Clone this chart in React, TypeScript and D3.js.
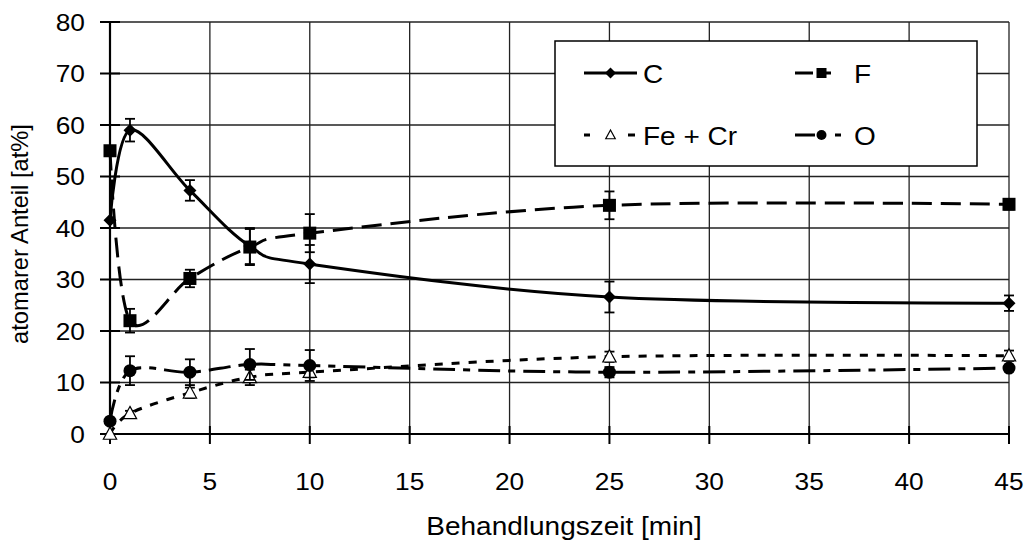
import React from "react";
import * as d3 from "d3";

const times = [0, 1, 4, 7, 10, 25, 45];
const valC = [41.5, 59, 47.3, 36.5, 33, 26.6, 25.4];
const valF = [55, 22, 30.2, 36.3, 39, 44.4, 44.6];
const valFe = [0, 4, 8, 11, 12, 15, 15.2];
const valO = [2.5, 12.3, 12, 13.5, 13.3, 12, 12.8];
const errC = [0, 2.2, 2, 3.5, 3.7, 3, 1.5];
const errF = [0, 2.3, 1.7, 3.5, 3.7, 2.7, 1];
const errFe = [0, 0.5, 1, 1.5, 1, 1, 1];
const errO = [0, 2.8, 2.5, 3, 3, 1, 0.5];
const xTicks = [0, 5, 10, 15, 20, 25, 30, 35, 40, 45];
const yTicks = [0, 10, 20, 30, 40, 50, 60, 70, 80];
const seriesNames = ["C", "F", "Fe + Cr", "O"];

const W = 1025, H = 546;
const FONT = "'Liberation Sans', Arial, sans-serif";
const SX = 1.12;

type Sym = "diamond" | "square" | "triangle" | "circle";

function Marker({ x, y, sym, s }: { x: number; y: number; sym: Sym; s: number }) {
  if (sym === "diamond")
    return <path d={`M${x},${y - s}L${x + s},${y}L${x},${y + s}L${x - s},${y}Z`} fill="#000" />;
  if (sym === "square")
    return <rect x={x - s} y={y - s} width={2 * s} height={2 * s} fill="#000" />;
  if (sym === "circle") return <circle cx={x} cy={y} r={s} fill="#000" />;
  return (
    <path
      d={`M${x},${y - s}L${x + s * 0.95},${y + s * 0.75}L${x - s * 0.95},${y + s * 0.75}Z`}
      fill="#fff"
      stroke="#000"
      strokeWidth={1.2}
    />
  );
}

function T({ x, y, size, anchor, children }: { x: number; y: number; size: number; anchor?: string; children: any }) {
  return (
    <text
      transform={`translate(${x},${y}) scale(${SX},1)`}
      textAnchor={anchor || "start"}
      fontFamily={FONT}
      fontSize={size}
      fill="#000"
    >
      {children}
    </text>
  );
}

export default function App() {
  const x = d3.scaleLinear().domain([0, 45]).range([110, 1009]);
  const y = d3.scaleLinear().domain([0, 80]).range([434, 22]);
  const line = d3
    .line<[number, number]>()
    .x((d) => x(d[0]))
    .y((d) => y(d[1]))
    .curve(d3.curveCardinal.tension(0));

  const series = [
    { name: seriesNames[0], vals: valC, err: errC, sym: "diamond" as Sym, dash: "none", ldash: "none", ms: 6.5, lms: 5.5 },
    { name: seriesNames[1], vals: valF, err: errF, sym: "square" as Sym, dash: "20 9", ldash: "18 9 9", ms: 6.5, lms: 5 },
    { name: seriesNames[2], vals: valFe, err: errFe, sym: "triangle" as Sym, dash: "8 9", ldash: "6 38 7", ms: 7, lms: 5 },
    { name: seriesNames[3], vals: valO, err: errO, sym: "circle" as Sym, dash: "22 8 7 8", ldash: "20 20 6", ms: 6.5, lms: 5 },
  ];

  const legendPos = [
    { lx: 584, ly: 73 },
    { lx: 795, ly: 73 },
    { lx: 584, ly: 135 },
    { lx: 795, ly: 135 },
  ];

  return (
    <svg width={W} height={H} style={{ position: "absolute", left: 0, top: 0, background: "#fff" }}>
      <rect width={W} height={H} fill="#fff" />
      {/* grid */}
      {yTicks.map((t) => (
        <line key={"gy" + t} x1={x(0)} x2={x(45)} y1={y(t)} y2={y(t)} stroke="#222" strokeWidth={1.3} />
      ))}
      {xTicks.map((t) => (
        <line key={"gx" + t} x1={x(t)} x2={x(t)} y1={y(0)} y2={y(80)} stroke="#222" strokeWidth={1.3} />
      ))}
      {/* axes */}
      <line x1={x(0)} x2={x(45)} y1={y(0)} y2={y(0)} stroke="#000" strokeWidth={2.2} />
      <line x1={x(0)} x2={x(0)} y1={y(0)} y2={y(80)} stroke="#000" strokeWidth={2.2} />
      {yTicks.map((t) => (
        <line key={"ty" + t} x1={x(0) - 10} x2={x(0) + 10} y1={y(t)} y2={y(t)} stroke="#000" strokeWidth={2} />
      ))}
      {xTicks.map((t) => (
        <line key={"tx" + t} x1={x(t)} x2={x(t)} y1={y(0) - 8} y2={y(0) + 10} stroke="#000" strokeWidth={2} />
      ))}
      {yTicks.map((t) => (
        <T key={"ly" + t} x={85} y={y(t) + 8.5} size={23.5} anchor="end">
          {t}
        </T>
      ))}
      {xTicks.map((t) => (
        <T key={"lx" + t} x={x(t)} y={490} size={23.5} anchor="middle">
          {t}
        </T>
      ))}
      <T x={564} y={535} size={25} anchor="middle">
        Behandlungszeit [min]
      </T>
      <text
        transform={`translate(28,234) rotate(-90)`}
        textAnchor="middle"
        fontFamily={FONT}
        fontSize={23.7}
        fill="#000"
      >
        atomarer Anteil [at%]
      </text>

      {/* series */}
      {series.map((s) => (
        <g key={s.name}>
          <path
            d={line(times.map((t, i) => [t, s.vals[i]] as [number, number])) || ""}
            fill="none"
            stroke="#000"
            strokeWidth={3}
            strokeDasharray={s.dash}
          />
          {times.map((t, i) =>
            s.err[i] > 0 ? (
              <g key={"e" + i} stroke="#000" strokeWidth={1.8}>
                <line x1={x(t)} x2={x(t)} y1={y(s.vals[i] - s.err[i])} y2={y(s.vals[i] + s.err[i])} />
                <line x1={x(t) - 5} x2={x(t) + 5} y1={y(s.vals[i] - s.err[i])} y2={y(s.vals[i] - s.err[i])} />
                <line x1={x(t) - 5} x2={x(t) + 5} y1={y(s.vals[i] + s.err[i])} y2={y(s.vals[i] + s.err[i])} />
              </g>
            ) : null
          )}
          {times.map((t, i) => (
            <Marker key={"m" + i} x={x(t)} y={y(s.vals[i])} sym={s.sym} s={s.ms} />
          ))}
        </g>
      ))}

      {/* legend */}
      <rect x={555} y={41} width={422} height={125} fill="#fff" stroke="#000" strokeWidth={1.5} />
      {series.map((s, i) => {
        const { lx, ly } = legendPos[i];
        return (
          <g key={"lg" + s.name}>
            <line
              x1={lx}
              x2={lx + 53}
              y1={ly}
              y2={ly}
              stroke="#000"
              strokeWidth={3}
              strokeDasharray={s.ldash}
            />
            <Marker x={lx + 26.5} y={ly} sym={s.sym} s={s.lms} />
            <T x={lx + 59} y={ly + 10} size={25}>
              {s.name}
            </T>
          </g>
        );
      })}
    </svg>
  );
}
